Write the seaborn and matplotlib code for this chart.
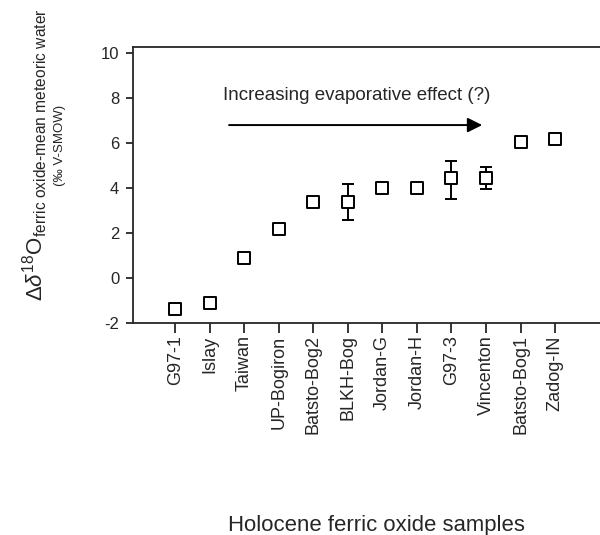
import matplotlib
matplotlib.use("Agg")
import matplotlib.pyplot as plt
import seaborn as sns
import pandas as pd

samples = ["G97-1", "Islay", "Taiwan", "UP-Bogiron", "Batsto-Bog2", "BLKH-Bog",
           "Jordan-G", "Jordan-H", "G97-3", "Vincenton", "Batsto-Bog1", "Zadog-IN"]
values = [-1.4, -1.1, 0.9, 2.2, 3.4, 3.4, 4.0, 4.0, 4.45, 4.45, 6.05, 6.2]
err_samples = ["BLKH-Bog", "G97-3", "Vincenton"]
err_low = [0.8, 0.95, 0.5]
err_high = [0.8, 0.75, 0.5]
yticks = [-2, 0, 2, 4, 6, 8, 10]

sns.set_style("ticks")
plt.rcParams["font.family"] = ["Liberation Sans", "DejaVu Sans"]
plt.rcParams["mathtext.fontset"] = "custom"
plt.rcParams["mathtext.rm"] = "Liberation Sans"
plt.rcParams["mathtext.it"] = "Liberation Sans:italic"

df = pd.DataFrame({"sample": samples, "value": values})

fig = plt.figure(figsize=(6.0, 5.35), dpi=100)
ax = fig.add_axes([0.2217, 0.3963, 0.7783, 0.5158])

# error bars (behind markers)
pos = {s: i for i, s in enumerate(samples)}
ex = [pos[s] for s in err_samples]
ey = [values[pos[s]] for s in err_samples]
ax.errorbar(ex, ey, yerr=[err_low, err_high], fmt="none", ecolor="black",
            elinewidth=1.4, capsize=4.5, capthick=1.4, zorder=2)

sns.scatterplot(data=df, x="sample", y="value", marker="s", s=75,
                facecolor="white", edgecolor="black", linewidth=1.4,
                ax=ax, zorder=3, legend=False)

ax.set_xlim(-1.22, 12.3)
ax.set_ylim(-2, 10.27)
ax.set_yticks(yticks)
ax.set_yticklabels([str(v) for v in yticks], fontsize=12)
ax.set_xticks(range(len(samples)))
ax.set_xticklabels(samples, rotation=90, fontsize=13)
ax.tick_params(axis="x", direction="out", length=7, width=1.3, pad=2)
ax.tick_params(axis="y", direction="out", length=5, width=1.3, pad=5)
for sp in ["left", "bottom", "top"]:
    ax.spines[sp].set_linewidth(1.3)
ax.spines["right"].set_visible(False)
ax.set_xlabel("")
ax.set_ylabel("")

ax.annotate("", xy=(8.97, 6.8), xytext=(1.48, 6.8),
            arrowprops=dict(arrowstyle="-|>", color="black", lw=1.4,
                            mutation_scale=22))
ax.text(1.38, 8.13, "Increasing evaporative effect (?)", fontsize=13.5,
        ha="left", va="center")

ylab = (r"$\Delta\delta^{18}$O$_{\mathrm{ferric\ oxide" + "\u2010"
        + r"mean\ meteoric\ water}}$")
fig.text(0.058, 0.71, ylab, rotation=90, ha="center", va="center",
         fontsize=16)
fig.text(0.1, 0.729, "(‰ V-SMOW)", rotation=90, ha="center", va="center",
         fontsize=9.5)

fig.text(0.627, 0.018, "Holocene ferric oxide samples", ha="center",
         va="center", fontsize=15.9)

fig.savefig("out.png", dpi=100)
